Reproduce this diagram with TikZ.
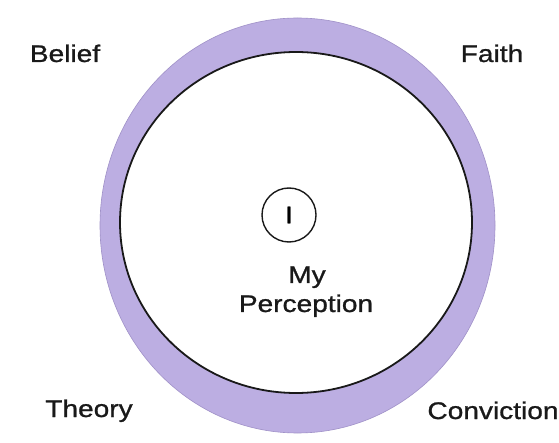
\documentclass[tikz,border=0pt]{standalone}
\usepackage{fontspec}
\setmainfont{Liberation Sans}
\newfontfamily\widefont[FakeStretch=1.17,FakeBold=1]{Liberation Sans}
\definecolor{ringfill}{RGB}{188,174,226}
\definecolor{ringedge}{RGB}{160,145,200}
\tikzset{
  lbl/.style={anchor=base, inner sep=0pt, font=\widefont\fontsize{24}{26}\selectfont, text=black!90},
  ring/.style={fill=ringfill, draw=ringedge, line width=0.6pt},
  inner/.style={fill=white, draw=black!90, line width=1.8pt},
  selfc/.style={circle, draw=black!90, line width=1.4pt, minimum size=54pt, inner sep=0pt, font=\widefont\fontsize{24}{26}\selectfont}
}
\begin{document}
\begin{tikzpicture}[x=1pt, y=-1pt]
\useasboundingbox (0,0) rectangle (559,443);
\fill[white] (0,0) rectangle (559,443);
\draw[ring] (297.5,225.5) ellipse [x radius=197.5, y radius=207.5];
\draw[inner] (296,222.5) ellipse [x radius=176, y radius=170.5];
\node[selfc] (self) at (289,215) {I};
\node[lbl] (my) at (307,283) {My};
\node[lbl] (perc) at (306,312) {Perception};
\node[lbl] (belief) at (65,62) {Belief};
\node[lbl] (faith) at (492,62) {Faith};
\node[lbl] (theory) at (89,417) {Theory};
\node[lbl] (conv) at (493,419) {Conviction};
\end{tikzpicture}
\end{document}
